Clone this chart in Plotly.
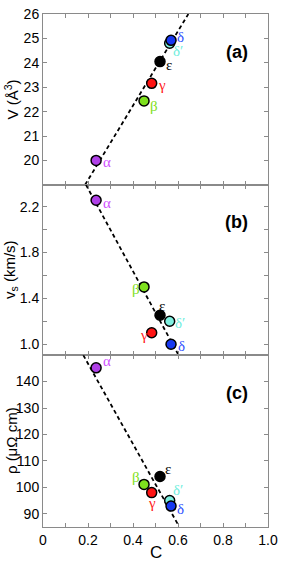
import plotly.graph_objects as go
from plotly.subplots import make_subplots

# ---- data ----
phases = ["α", "β", "γ", "ε", "δ′", "δ"]
C = [0.236, 0.449, 0.483, 0.520, 0.563, 0.569]
V = [20.0, 22.44, 23.16, 24.05, 24.80, 24.92]
vs = [2.255, 1.50, 1.10, 1.253, 1.20, 1.00]
rho = [145.2, 101.1, 98.0, 104.1, 95.0, 92.9]

# dashed guide lines (endpoints)
fitV_C = [0.187, 0.646]
fitV_y = [19.0, 26.0]
fitVs_C = [0.191, 0.600]
fitVs_y = [2.39, 0.915]
fitRho_C = [0.179, 0.601]
fitRho_y = [150.0, 85.8]

x_tickvals = [0, 0.1, 0.2, 0.3, 0.4, 0.5, 0.6, 0.7, 0.8, 0.9, 1.0]
x_ticktext = ["0", "", "0.2", "", "0.4", "", "0.6", "", "0.8", "", "1.0"]
V_ticks = [20, 21, 22, 23, 24, 25, 26]
vs_tickvals = [1.0, 1.2, 1.4, 1.6, 1.8, 2.0, 2.2]
vs_ticktext = ["1.0", "", "1.4", "", "1.8", "", "2.2"]
rho_ticks = [90, 100, 110, 120, 130, 140]

y_titles = ["V (Å<sup>3</sup>)", "v<sub>s</sub> (km/s)", "ρ (μΩ cm)"]
panel_tags = ["(a)", "(b)", "(c)"]
x_title = "C"

# ---- style ----
fill = ["#b040e8", "#7ee01e", "#ff1414", "#000000", "#7ff0e0", "#1838f0"]
lblcol = ["#d050ff", "#80e020", "#ff2020", "#000000", "#70eedd", "#3050ff"]
# label pixel offsets per panel (dx, dy  with dy positive = down)
off_a = [(11, 2), (10, 5), (10, 2), (9, 3), (8, 8), (9, -3)]
off_b = [(11, 3), (-8, 2), (-8, 2), (2, -9), (10, 2), (10, 2)]
off_c = [(11, -7), (-8, -7), (0, 10), (8, -8), (8, -11), (9, 3)]

fig = make_subplots(rows=3, cols=1, shared_xaxes=True, vertical_spacing=0)

panels = [
    (1, V, fitV_C, fitV_y, off_a),
    (2, vs, fitVs_C, fitVs_y, off_b),
    (3, rho, fitRho_C, fitRho_y, off_c),
]
for row, yv, fc, fy, off in panels:
    fig.add_trace(go.Scatter(x=fc, y=fy, mode="lines",
                             line=dict(color="black", width=1.8, dash="4px,3px"),
                             hoverinfo="skip", showlegend=False), row=row, col=1)
    fig.add_trace(go.Scatter(x=C, y=yv, mode="markers",
                             marker=dict(size=10, color=fill,
                                         line=dict(color="black", width=1.5)),
                             showlegend=False), row=row, col=1)
    xref = "x" if row == 1 else f"x{row}"
    yref = "y" if row == 1 else f"y{row}"
    for i, p in enumerate(phases):
        fig.add_annotation(x=C[i], y=yv[i], xref=xref, yref=yref, text=p,
                           showarrow=False, xshift=off[i][0], yshift=-off[i][1],
                           font=dict(family="Liberation Serif", size=15, color=lblcol[i]))
    # y title
    fig.add_annotation(x=0, y=0.5, xref="x domain", yref=f"{yref} domain",
                       text=y_titles[row - 1], textangle=-90, showarrow=False,
                       xanchor="center", yanchor="middle", xshift=-32,
                       font=dict(family="Liberation Sans", size=15, color="black"))
    # panel tag
    fig.add_annotation(x=0.86, y=0.78, xref="x domain", yref=f"{yref} domain",
                       text=f"<b>{panel_tags[row - 1]}</b>", showarrow=False,
                       xanchor="center", yanchor="middle",
                       font=dict(family="Liberation Sans", size=18, color="black"))

# x title
fig.add_annotation(x=0.5, y=0, xref="x3 domain", yref="paper", text=x_title,
                   showarrow=False, xanchor="center", yanchor="middle", yshift=-25,
                   font=dict(family="Liberation Sans", size=17, color="black"))

axcol = "#8a8a8a"
common_x = dict(range=[0, 1], tickvals=x_tickvals, ticktext=x_ticktext,
                ticks="inside", ticklen=4, tickcolor=axcol, showline=True,
                linecolor=axcol, linewidth=1, mirror="ticks", showgrid=False,
                zeroline=False, automargin=False, ticklabeloverflow="allow",
                tickfont=dict(family="Liberation Sans", size=14, color="black"))
fig.update_xaxes(**common_x)
fig.update_xaxes(showticklabels=False, row=1, col=1)
fig.update_xaxes(showticklabels=False, row=2, col=1)
fig.update_xaxes(showticklabels=True, row=3, col=1)

common_y = dict(ticks="inside", ticklen=4, tickcolor=axcol, showline=True,
                linecolor=axcol, linewidth=1, mirror="ticks", showgrid=False,
                zeroline=False, automargin=False, ticklabeloverflow="allow",
                tickfont=dict(family="Liberation Sans", size=14, color="black"))
fig.update_yaxes(**common_y)
fig.update_yaxes(range=[19, 26], tickvals=V_ticks, domain=[0.667, 1.0], row=1, col=1)
fig.update_yaxes(range=[0.905, 2.39], tickvals=vs_tickvals, ticktext=vs_ticktext,
                 domain=[0.335, 0.667], row=2, col=1)
fig.update_yaxes(range=[85, 150], tickvals=rho_ticks, domain=[0.0, 0.335], row=3, col=1)

fig.update_layout(width=284, height=561, margin=dict(l=43, r=16, t=14, b=34),
                  plot_bgcolor="white", paper_bgcolor="white")

# remove the default page margin so the 284x561 figure fills the window exactly
fig.write_html("out.html", config={"displayModeBar": False},
               post_script="document.body.style.margin='0';")
